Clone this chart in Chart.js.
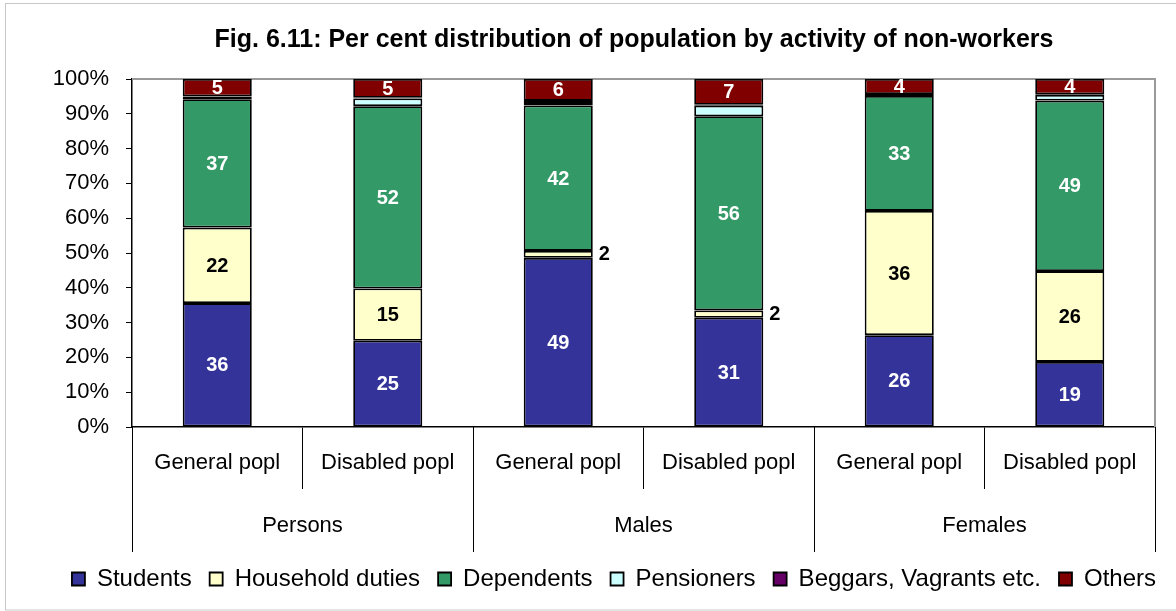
<!DOCTYPE html>
<html>
<head>
<meta charset="utf-8">
<script src="https://cdn.jsdelivr.net/npm/chart.js@4.4.1/dist/chart.umd.min.js"></script>
<style>
  html, body { margin: 0; padding: 0; background: #fff; }
  #wrap { width: 1176px; height: 611px; position: relative; }
</style>
</head>
<body>
<div id="wrap"><canvas id="chart"></canvas></div>
<script>
// Per cent distribution of non-workers by activity
const subLabels = ['General popl', 'Disabled popl', 'General popl', 'Disabled popl', 'General popl', 'Disabled popl'];
const groupLabels = ['Persons', 'Males', 'Females'];

const students = [35.6, 24.8, 48.6, 31.4, 26.4, 18.7];
const household = [21.7, 15.0, 2.0, 2.1, 35.7, 26.1];
const dependents = [36.9, 52.4, 41.8, 55.8, 33.0, 49.0];
const pensioners = [0.6, 2.2, 1.0, 3.0, 0.3, 1.6];
const beggars = [0.2, 0.2, 0.3, 0.3, 0.3, 0.2];
const others = [5.0, 5.4, 6.3, 7.4, 4.3, 4.4];

const yTicks = [0, 10, 20, 30, 40, 50, 60, 70, 80, 90, 100];

const FONT = '"Liberation Sans", Arial, sans-serif';

// value labels inside the segments (thin household ones go right of the bar)
const valueLabels = {
    id: 'valueLabels',
    afterDatasetsDraw(chart) {
        const ctx = chart.ctx;
        ctx.save();
        ctx.font = 'bold 20px ' + FONT;
        ctx.textBaseline = 'middle';
        chart.data.datasets.forEach((ds, di) => {
            if (!ds.showValues) return;
            const meta = chart.getDatasetMeta(di);
            meta.data.forEach((bar, i) => {
                const v = ds.data[i];
                const text = String(Math.round(v));
                const cy = (bar.y + bar.base) / 2;
                if (v < 3) {
                    ctx.fillStyle = '#000';
                    ctx.textAlign = 'left';
                    ctx.fillText(text, bar.x + bar.width / 2 + 6, cy);
                } else {
                    ctx.fillStyle = ds.labelColor;
                    ctx.textAlign = 'center';
                    ctx.fillText(text, bar.x, cy + 1);
                }
            });
        });
        ctx.restore();
    }
};

// plot frame (grey top/right) and outer frame; title centred over the plot
const frames = {
    id: 'frames',
    afterLayout(chart) {
        const tb = chart.titleBlock;
        if (tb) {
            tb.left = chart.chartArea.left - 38;
            tb.right = chart.chartArea.right + 19;
        }
    },
    beforeDatasetsDraw(chart) {
        const { ctx, chartArea: a } = chart;
        ctx.save();
        ctx.strokeStyle = '#9a9a9a';
        ctx.lineWidth = 2;
        ctx.beginPath();
        ctx.moveTo(a.left, a.top);
        ctx.lineTo(a.right, a.top);
        ctx.lineTo(a.right, a.bottom);
        ctx.stroke();
        ctx.restore();
    },
    afterDraw(chart) {
        const ctx = chart.ctx;
        ctx.save();
        ctx.strokeStyle = '#c8c8c8';
        ctx.lineWidth = 1;
        ctx.strokeRect(5.5, 3.5, 1180, 606.5);
        ctx.restore();
    }
};

// second level of the category axis: Persons / Males / Females
const groupAxis = {
    id: 'groupAxis',
    afterDraw(chart) {
        const { ctx } = chart;
        const x = chart.scales.x;
        const half = (x.getPixelForValue(1) - x.getPixelForValue(0)) / 2;
        const top = x.top;
        const bottom = x.top + 125;
        ctx.save();
        ctx.strokeStyle = '#000';
        ctx.lineWidth = 1;
        ctx.fillStyle = '#000';
        ctx.font = '22px ' + FONT;
        ctx.textAlign = 'center';
        ctx.textBaseline = 'middle';
        groupLabels.forEach((g, gi) => {
            const l = x.getPixelForValue(gi * 2) - half;
            const r = x.getPixelForValue(gi * 2 + 1) + half;
            [l, r].forEach(px => {
                ctx.beginPath();
                ctx.moveTo(Math.round(px) + 0.5, top);
                ctx.lineTo(Math.round(px) + 0.5, bottom);
                ctx.stroke();
            });
            ctx.fillText(g, (l + r) / 2, top + 99);
        });
        ctx.restore();
    }
};

function segment(label, data, color, labelColor, showValues) {
    return {
        label: label,
        data: data,
        backgroundColor: color,
        borderColor: '#000',
        borderWidth: 1.8,
        borderSkipped: false,
        barPercentage: 0.405,
        categoryPercentage: 1,
        showValues: showValues,
        labelColor: labelColor
    };
}

new Chart(document.getElementById('chart'), {
    type: 'bar',
    data: {
        labels: subLabels,
        datasets: [
            segment('Students', students, '#333399', '#fff', true),
            segment('Household duties', household, '#ffffcc', '#000', true),
            segment('Dependents', dependents, '#339966', '#fff', true),
            segment('Pensioners', pensioners, '#ccffff', '#000', false),
            segment('Beggars, Vagrants etc.', beggars, '#660066', '#fff', false),
            segment('Others', others, '#800000', '#fff', true)
        ]
    },
    options: {
        responsive: true,
        maintainAspectRatio: false,
        animation: false,
        layout: { padding: { top: 8, left: 8, right: 2, bottom: 10 } },
        plugins: {
            title: {
                display: true,
                text: 'Fig. 6.11: Per cent distribution of population by activity of non-workers',
                color: '#000',
                font: { family: FONT, size: 25, weight: 'bold', lineHeight: 1.2 },
                padding: { top: 17, bottom: 24 }
            },
            legend: {
                position: 'bottom',
                align: 'end',
                labels: {
                    color: '#000',
                    font: { family: FONT, size: 24 },
                    boxWidth: 13,
                    boxHeight: 13,
                    padding: 18
                }
            },
            tooltip: { enabled: false }
        },
        scales: {
            x: {
                stacked: true,
                grid: { display: true, offset: true, drawOnChartArea: false, tickLength: 62, color: '#000' },
                border: { display: true, color: '#000', width: 1.5 },
                ticks: {
                    color: '#000',
                    font: { family: FONT, size: 22 },
                    padding: -39,
                    maxRotation: 0,
                    autoSkip: false
                },
                afterFit(scale) { scale.height = 122; }
            },
            y: {
                stacked: true,
                min: 0,
                max: 100,
                afterBuildTicks(scale) { scale.ticks = yTicks.map(v => ({ value: v })); },
                grid: { display: true, drawOnChartArea: false, tickLength: 6, color: '#000' },
                border: { display: true, color: '#000', width: 1.5 },
                ticks: {
                    color: '#000',
                    font: { family: FONT, size: 22 },
                    padding: 17,
                    callback: v => v + '%'
                },
                afterFit(scale) { scale.width = 124; }
            },
            // empty spacer on the right so the plot ends where the reference does
            y2: {
                position: 'right',
                display: true,
                grid: { display: false },
                border: { display: false },
                ticks: { display: false },
                afterFit(scale) { scale.width = 19; }
            }
        }
    },
    plugins: [frames, valueLabels, groupAxis]
});
</script>
</body>
</html>
